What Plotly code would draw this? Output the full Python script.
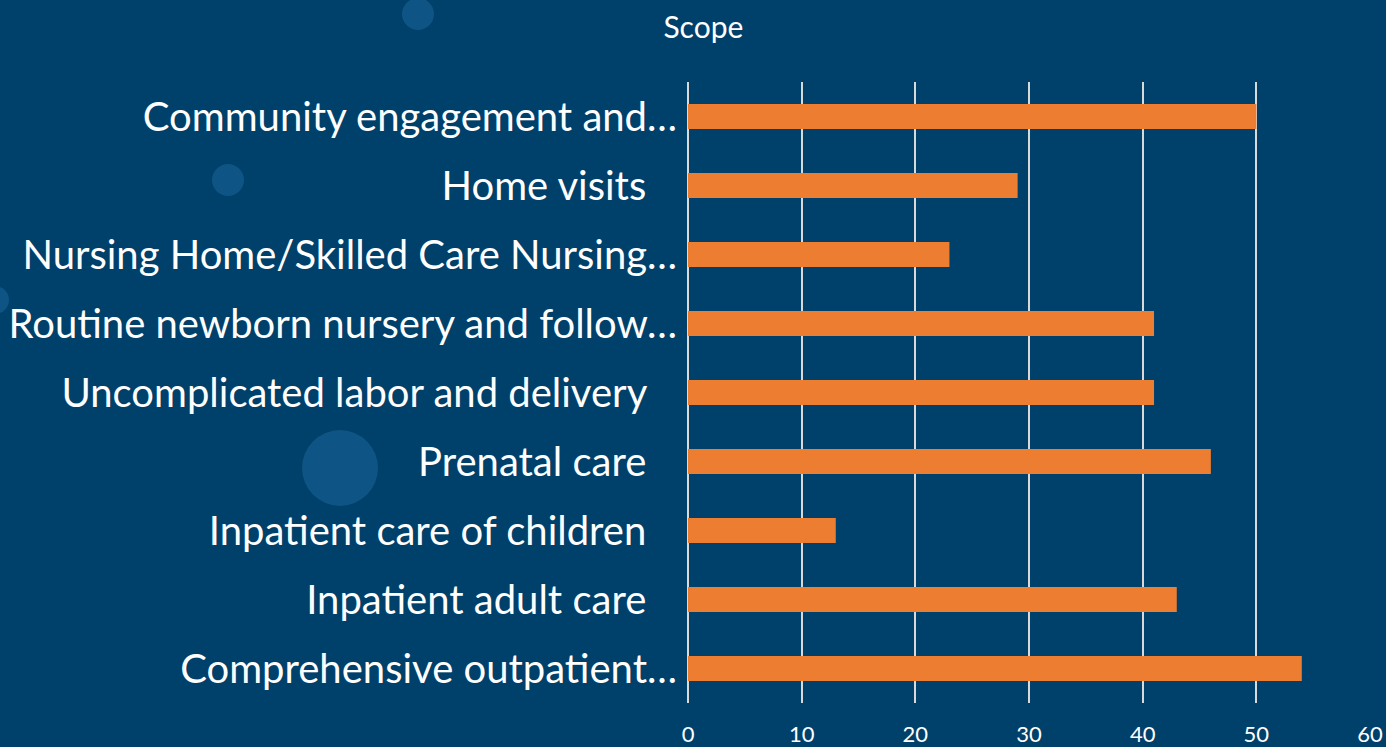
import plotly.graph_objects as go

categories = [
    "Comprehensive outpatient…",
    "Inpatient adult care\u00a0\u00a0\u00a0",
    "Inpatient care of children\u00a0\u00a0\u00a0",
    "Prenatal care\u00a0\u00a0\u00a0",
    "Uncomplicated labor and delivery\u00a0\u00a0\u00a0",
    "Routine newborn nursery and follow…",
    "Nursing Home/Skilled Care Nursing…",
    "Home visits\u00a0\u00a0\u00a0",
    "Community engagement and…",
]
values = [54, 43, 13, 46, 41, 41, 23, 29, 50]
tick_vals = [0, 10, 20, 30, 40, 50, 60]

BG = "#00416B"
BAR = "#ED7D31"

fig = go.Figure()
fig.add_trace(go.Bar(
    x=values, y=categories, orientation="h",
    marker=dict(color=BAR, line=dict(width=0)),
    width=0.36,
))

# faint decorative background circles
deco = [(418, 14, 16), (228, 180, 16), (340, 468, 38), (-5, 300, 14)]
shapes = []
for cx, cy, r in deco:
    shapes.append(dict(type="circle", xref="paper", yref="paper", layer="below",
                       x0=(cx - r - 688) / 682, x1=(cx + r - 688) / 682,
                       y0=(703 - cy - r) / 621, y1=(703 - cy + r) / 621,
                       fillcolor="rgba(40,120,180,0.35)", line=dict(width=0)))

fig.update_layout(
    width=1386, height=747,
    paper_bgcolor=BG, plot_bgcolor=BG,
    margin=dict(l=688, r=16, t=82, b=44),
    title=dict(text="Scope", x=0.5075, xanchor="center", y=0.963, yanchor="middle",
               font=dict(family="Lato", size=30, color="white")),
    showlegend=False,
    bargap=0.64,
    shapes=shapes,
    font=dict(family="Lato", color="white"),
)
fig.update_xaxes(
    range=[0, 60], tickvals=tick_vals, showgrid=True, gridcolor="#D9D9D9", gridwidth=1.5,
    zeroline=True, zerolinecolor="#D9D9D9", zerolinewidth=1.5,
    tickfont=dict(family="Lato", size=22, color="white"),
    ticks="outside", ticklen=12, tickcolor="rgba(0,0,0,0)",
    automargin=False,
)
fig.update_yaxes(
    tickfont=dict(family="Lato", size=40, color="white"),
    ticks="outside", ticklen=2, tickcolor="rgba(0,0,0,0)",
    showgrid=False, automargin=False,
)
fig.write_html("out.html", config={"displayModeBar": False},
               post_script="document.body.style.margin='0';document.body.style.background='%s';" % BG)
